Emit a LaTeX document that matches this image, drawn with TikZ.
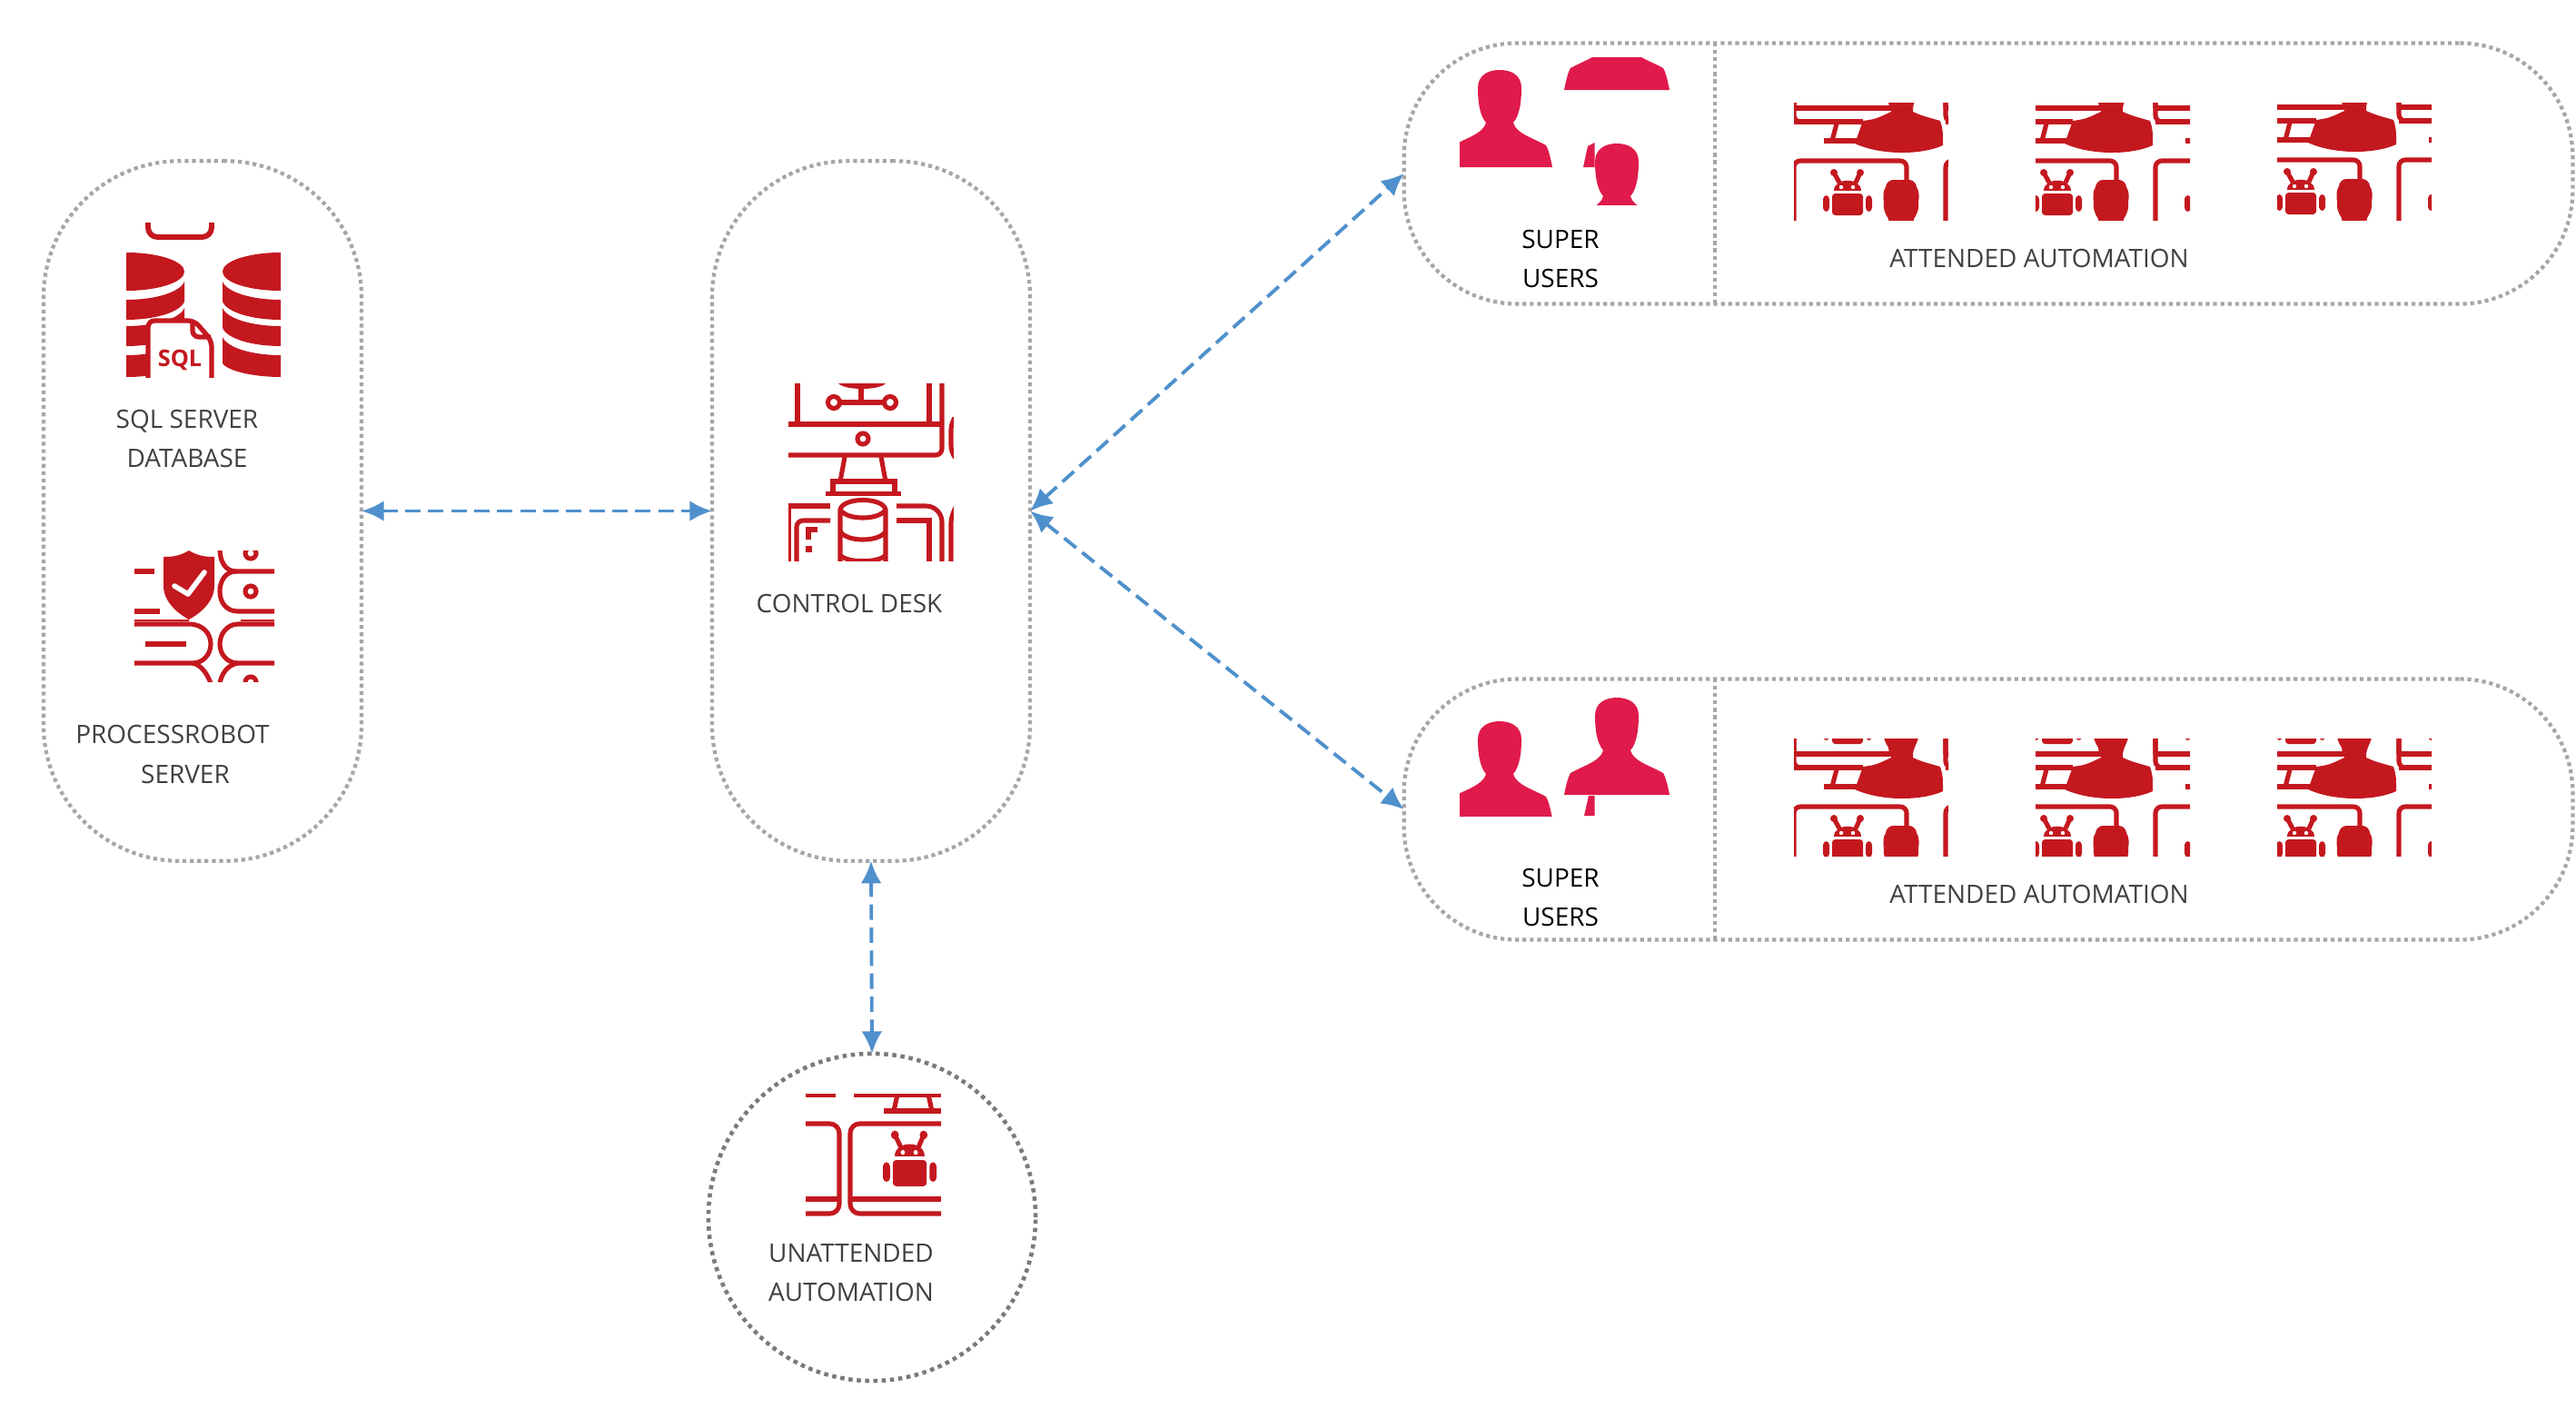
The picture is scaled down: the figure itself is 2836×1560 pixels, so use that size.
\documentclass[tikz,border=0pt]{standalone}
\usepackage{fontspec}
\setmainfont{Open Sans}
\usetikzlibrary{arrows.meta}
\definecolor{iconred}{HTML}{C4181F}
\definecolor{personpink}{HTML}{E01A4A}
\definecolor{panelgray}{HTML}{A6A6A6}
\definecolor{circlegray}{HTML}{7A7A7A}
\definecolor{linkblue}{HTML}{4F90CC}
\definecolor{labelgray}{HTML}{404040}
\tikzset{
  panel/.style={draw=panelgray,line width=1.2pt,dash pattern=on 1.2pt off 1.1pt,rectangle,inner sep=0pt,outer sep=0pt},
  label/.style={font=\fontsize{7.95}{12.4}\selectfont,text=labelgray,align=center,inner sep=0pt},
  blacklabel/.style={label,text=black},
  link/.style={draw=linkblue,line width=1.1pt,dash pattern=on 4.8pt off 2.4pt,
    {Latex[length=7pt,width=6.5pt]}-{Latex[length=7pt,width=6.5pt]}},
  ic/.style={draw=iconred,line width=1.45pt},
}
% ---- silhouette, origin at the top of the head, on its axis
\newcommand{\silhouette}[2]{\fill[personpink,shift={(#1,#2)}] (-58,107)
  .. controls (-56,97) and (-54,88) .. (-51,83)
  .. controls (-37,75) and (-18,70) .. (-15,58)
  .. controls (-22,50) and (-24,35) .. (-24,20)
  .. controls (-24,6) and (-13,0) .. (0,0)
  .. controls (13,0) and (24,6) .. (24,20)
  .. controls (24,35) and (22,50) .. (15,58)
  .. controls (18,70) and (37,75) .. (51,83)
  .. controls (54,88) and (56,97) .. (58,107) -- cycle;}
% ---- robot, in tile coordinates
\newcommand{\robotshape}{%
  \fill[iconred,rounded corners=1pt] (7,100) rectangle (41,124);
  \fill[iconred,rounded corners=1.2pt] (44,102) rectangle (51,120);
  \fill[iconred,rounded corners=1.2pt] (-3,102) rectangle (4,120);
  \fill[iconred] (9,97) .. controls (9,82) and (39,82) .. (39,97) -- cycle;
  \fill[white] (17,93) circle (2.2);
  \fill[white] (30,93) circle (2.2);
  \draw[ic] (15,88) -- (9,77);
  \draw[ic] (33,88) -- (38,77);
  \fill[iconred] (9,77) circle (4);
  \fill[iconred] (38,77) circle (4);
}
% ---- one repeat of the attended-automation pattern
\newcommand{\attendtile}{%
  \draw[ic] (-35,6) -- (72,6);
  \draw[ic] (-35,21) -- (41,21);
  \draw[ic] (12,23) -- (7,42);
  \draw[ic] (-2,42) -- (35,42);
  \draw[ic,rounded corners=2pt] (132,-12) -- (132,21) -- (145,21);
  \draw[ic,rounded corners=2pt] (-35,135) -- (-35,64) -- (89,64) -- (89,90);
  \fill[iconred] (64,-12) -- (102,-12) -- (96,4) -- (96,10)
    .. controls (105,14) .. (126,20) .. controls (129,30) .. (129,47)
    .. controls (105,58) and (60,58) .. (32,45) -- (41,20)
    .. controls (55,18) .. (72,10) -- (72,4) -- cycle;
  \fill[iconred] (74,85) -- (92,85) .. controls (96,85) and (100,89) .. (100,93)
    .. controls (103,97) and (103,104) .. (102,110)
    .. controls (103,116) and (101,122) .. (97,128) -- (96,135) -- (70,135) -- (69,128)
    .. controls (65,122) and (63,116) .. (64,110)
    .. controls (63,104) and (63,97) .. (66,93)
    .. controls (66,89) and (70,85) .. (74,85) -- cycle;
  \robotshape
}
% #1,#2 clip corner; #3,#4 pattern offset
\newcommand{\attendicon}[4]{%
  \begin{scope}
    \clip (#1,#2) rectangle ++(170,129);
    \foreach \kx in {-167,0,167}{
      \foreach \ky in {-129,0}{
        \begin{scope}[shift={(#1+#3+\kx,#2+#4+\ky)}]
          \attendtile
        \end{scope}
      }
    }
  \end{scope}
}
\newcommand{\sqlcylinder}{%
  \fill[iconred] (139,299) ellipse [x radius=64,y radius=21];
  \fill[iconred] (139,330) .. controls (170,330) and (198,322) .. (203,310) -- (203,332)
    .. controls (198,344) and (170,352) .. (139,352) -- cycle;
  \fill[iconred] (139,359) .. controls (170,359) and (198,351) .. (203,339) -- (203,361)
    .. controls (198,373) and (170,381) .. (139,381) -- cycle;
  \fill[iconred] (139,391) .. controls (170,391) and (198,383) .. (203,371) -- (203,400)
    .. controls (198,408) and (170,415) .. (139,415) -- cycle;
}
\begin{document}
\begin{tikzpicture}[x=0.01cm,y=-0.01cm]
\useasboundingbox (0,0) rectangle (2836,1560);
% panels
\node[panel,rounded corners=1.5cm,minimum width=3.50cm,minimum height=7.70cm] (server) at (223,562.5) {};
\node[panel,rounded corners=1.5cm,minimum width=3.50cm,minimum height=7.70cm] (desk) at (959,562.5) {};
\node[panel,rounded corners=1.25cm,minimum width=12.86cm,minimum height=2.87cm] (upper) at (2189,191) {};
\node[panel,rounded corners=1.25cm,minimum width=12.86cm,minimum height=2.87cm] (lower) at (2189,891) {};
\node[draw=circlegray,line width=1.3pt,dash pattern=on 1.3pt off 1.3pt,circle,inner sep=0pt,outer sep=0pt,minimum size=3.60cm] (robotcircle) at (960,1340) {};
% dividers
\coordinate (upperA) at (1888,47); \coordinate (upperB) at (1888,335);
\coordinate (lowerA) at (1888,747); \coordinate (lowerB) at (1888,1035);
\draw[panel] (upperA) -- (upperB);
\draw[panel] (lowerA) -- (lowerB);
% connectors
\draw[link] (server.east) -- (desk.west);
\draw[link] (desk.east) -- (upper.west);
\draw[link] (desk.east) -- (lower.west);
\draw[link] (desk.south) -- (robotcircle.north);
% SQL icon
\begin{scope}
  \clip (139,245) rectangle (309,415);
  \draw[ic,line width=1.7pt,rounded corners=3pt] (163,240) -- (163,261) -- (233,261) -- (233,240);
  \sqlcylinder
  \begin{scope}[shift={(448,0)},xscale=-1]\sqlcylinder\end{scope}
  \draw[ic,line width=1.5pt,fill=white,rounded corners=2pt] (163,425) -- (163,353) -- (214,353) -- (233,375) -- (233,425);
  \draw[ic,line width=1.5pt,rounded corners=2pt] (212,354) -- (212,371) -- (232,371);
\end{scope}
\node[font=\fontsize{7.2}{8}\bfseries\selectfont,text=iconred,inner sep=0pt] (sqltag) at (198,396) {SQL};
% shield icon
\begin{scope}
  \clip (148,606) rectangle (302,750);
  \fill[iconred] (208,606) .. controls (198,612) and (190,613) .. (180,613) -- (180,645)
    .. controls (180,662) and (195,675) .. (208,682)
    .. controls (221,675) and (236,662) .. (236,645) -- (236,613)
    .. controls (226,613) and (218,612) .. (208,606) -- cycle;
  \draw[white,line width=1.6pt,line cap=round,line join=round] (192,645) -- (207,654) -- (225,630);
  \draw[ic] (148,629) -- (170,629);
  \draw[ic] (148,673) -- (176,673);
  \draw[iconred,line width=0.5pt] (148,683) -- (208,683);
  \draw[iconred,line width=0.5pt] (265,683) -- (302,683);
  \draw[ic] (242,604) .. controls (242,618) and (248,629) .. (260,629) -- (302,629);
  \draw[ic] (260,629) .. controls (248,629) and (242,640) .. (242,651)
    .. controls (242,664) and (250,673) .. (262,673) -- (302,673);
  \draw[ic] (276,609) circle (6);
  \draw[ic] (276,651) circle (6);
  \draw[ic] (148,687) -- (208,687) .. controls (224,687) and (232,698) .. (232,709)
    .. controls (232,720) and (224,730) .. (212,730) -- (148,730);
  \draw[ic] (212,730) .. controls (222,732) and (228,742) .. (232,752);
  \draw[ic] (160,709) -- (205,709);
  \draw[ic] (302,687) -- (262,687) .. controls (250,687) and (242,698) .. (242,709)
    .. controls (242,720) and (250,730) .. (262,730) -- (302,730);
  \draw[ic] (262,730) .. controls (250,732) and (244,742) .. (242,752);
  \draw[ic] (276,751) circle (6);
\end{scope}
% control desk icon
\begin{scope}
  \clip (868,422) rectangle (1050,617);
  \draw[ic] (878,420) -- (878,467);
  \draw[ic] (1023,420) -- (1023,467);
  \draw[ic,rounded corners=2pt] (1037,420) -- (1037,501) -- (868,501);
  \draw[ic] (868,467) -- (1037,467);
  \draw[ic,rounded corners=2pt] (1051,460) -- (1047,466) -- (1047,498) -- (1051,503);
  \draw[ic] (950,483) circle (6);
  \fill[iconred] (923,422) .. controls (930,430) and (968,430) .. (975,422) -- cycle;
  \draw[ic] (948,426) -- (948,443);
  \draw[ic] (918,443) -- (980,443);
  \draw[ic,fill=white] (918,443) circle (6.5);
  \draw[ic,fill=white] (980,443) circle (6.5);
  \draw[ic] (930,503) -- (925,530);
  \draw[ic] (970,503) -- (975,530);
  \draw[ic] (917,541) -- (917,530) -- (985,530) -- (985,541);
  \fill[iconred] (909,541) rectangle (992,546);
  \draw[ic] (925,620) -- (925,561) .. controls (928,547) and (972,547) .. (975,561) -- (975,620);
  \draw[ic] (925,561) .. controls (932,573) and (968,573) .. (975,561);
  \draw[ic] (925,585) .. controls (932,597) and (968,597) .. (975,585);
  \draw[ic] (925,611) .. controls (932,620) and (968,620) .. (975,611);
  \draw[ic] (868,557) -- (914,557);
  \draw[ic,rounded corners=2pt] (914,573) -- (877,573) -- (877,620);
  \draw[ic] (868,557) -- (868,620);
  \draw[ic] (900,583) -- (890,583) -- (890,594);
  \fill[iconred] (887,601) rectangle (894,608);
  \draw[ic,rounded corners=5pt] (987,557) -- (1037,557) -- (1037,620);
  \draw[ic] (987,573) -- (1023,573) -- (1023,620);
  \draw[ic,rounded corners=4pt] (1052,557) -- (1047,562) -- (1047,620);
\end{scope}
% unattended icon
\begin{scope}
  \clip (887,1204) rectangle (1036,1338);
  \draw[ic] (887,1205) -- (920,1205);
  \draw[ic] (940,1205) -- (1036,1205);
  \draw[ic] (988,1205) -- (984,1223);
  \draw[ic] (1022,1205) -- (1026,1223);
  \draw[ic] (973,1223) -- (1036,1223);
  \draw[ic,rounded corners=3pt] (887,1237) -- (924,1237) -- (924,1336) -- (887,1336);
  \draw[ic,rounded corners=3pt] (1036,1237) -- (936,1237) -- (936,1336) -- (1036,1336);
  \draw[ic] (887,1320) -- (924,1320);
  \draw[ic] (936,1320) -- (1036,1320);
  \begin{scope}[shift={(975.4,1157)},xscale=1.09,yscale=1.2]\robotshape\end{scope}
\end{scope}
% people, upper panel
\begin{scope}
  \clip (1607,70) rectangle (1720,184);
  \silhouette{1651}{77}
\end{scope}
\begin{scope}
  \clip (1715,63) rectangle (1845,99);
  \silhouette{1780}{-8}
\end{scope}
\fill[personpink] (1743,184) -- (1748,161) -- (1755.5,157) -- (1755.5,184) -- cycle;
\begin{scope}
  \clip (1756,150) rectangle (1815,225);
  \silhouette{1780}{158}
\end{scope}
% people, lower panel
\begin{scope}
  \clip (1607,790) rectangle (1720,898);
  \silhouette{1651}{794}
\end{scope}
\begin{scope}
  \clip (1715,760) rectangle (1845,875);
  \silhouette{1780}{768}
\end{scope}
\fill[personpink] (1744,898) -- (1749,876) -- (1755.5,876) -- (1755.5,898) -- cycle;
% attended icons
\attendicon{1975}{113}{35}{0}
\attendicon{2241}{113}{0}{0}
\attendicon{2507}{113}{2}{-1}
\attendicon{1975}{813}{35}{11}
\attendicon{2241}{813}{0}{11}
\attendicon{2507}{813}{2}{11}
% labels
\node[label] (sqllabel) at (206,483) {SQL SERVER\\DATABASE};
\node[label] (pr1) at (190,808) {PROCESSROBOT};
\node[label] (pr2) at (204,852) {SERVER};
\node[label] (desklabel) at (935,664) {CONTROL DESK};
\node[label] (unlabel) at (937,1401) {UNATTENDED\\AUTOMATION};
\node[blacklabel] (su1) at (1718,285) {SUPER\\USERS};
\node[blacklabel] (su2) at (1718,988) {SUPER\\USERS};
\node[label] (aa1) at (2245,284) {ATTENDED AUTOMATION};
\node[label] (aa2) at (2245,984) {ATTENDED AUTOMATION};
\end{tikzpicture}
\end{document}
